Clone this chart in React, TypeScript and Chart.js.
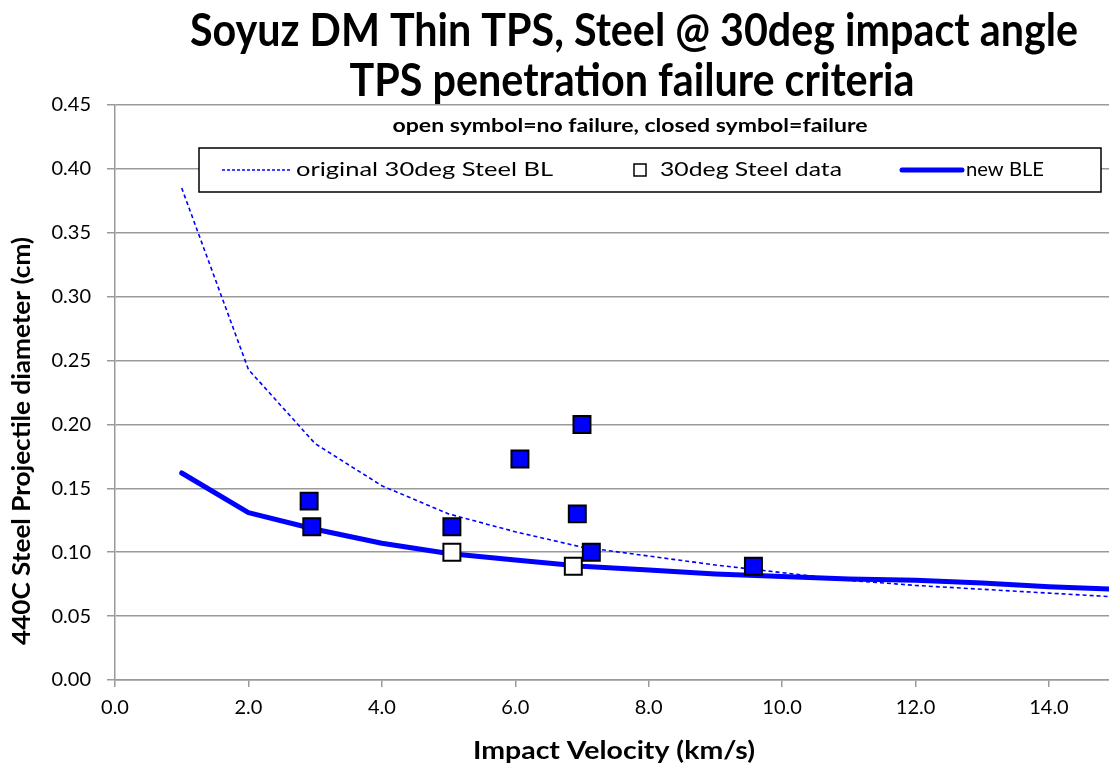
import React, { useEffect, useRef } from "react";
import { Chart, registerables } from "chart.js";

Chart.register(...registerables);

// ---- Text ----
const titleLines = [
  "Soyuz DM Thin TPS, Steel @ 30deg impact angle",
  "TPS penetration failure criteria",
];
const noteText = "open symbol=no failure, closed symbol=failure";
const xAxisTitle = "Impact Velocity (km/s)";
const yAxisTitle = "440C Steel Projectile diameter (cm)";

// ---- Data ----
const blLabel = "original 30deg Steel BL";
const blVelocity = [1, 2, 3, 4, 5, 6, 7, 8, 9, 10, 11, 12, 13, 14, 15];
const blDiameter = [0.385, 0.243, 0.185, 0.152, 0.13, 0.116, 0.104, 0.097, 0.09, 0.084, 0.078, 0.074, 0.071, 0.068, 0.065];

const dataLabel = "30deg Steel data";
const dataVelocity = [2.91, 2.95, 5.05, 5.05, 6.07, 7.0, 6.93, 7.14, 6.87, 9.57];
const dataDiameter = [0.14, 0.12, 0.12, 0.1, 0.173, 0.2, 0.13, 0.1, 0.089, 0.089];
const dataFailed = [true, true, true, false, true, true, true, true, false, true];

const bleLabel = "new BLE";
const bleVelocity = [1, 2, 3, 4, 5, 6, 7, 8, 9, 10, 11, 12, 13, 14, 15];
const bleDiameter = [0.162, 0.131, 0.118, 0.107, 0.099, 0.094, 0.089, 0.086, 0.083, 0.081, 0.079, 0.078, 0.076, 0.073, 0.071];

const FONT = "Lato, 'Open Sans', sans-serif";
const BLUE = "#0000FF";
const GRID = "#9a9a9a";

// draws text scaled horizontally to a target width
function fitText(
  ctx: CanvasRenderingContext2D,
  text: string,
  cx: number,
  cy: number,
  font: string,
  width: number,
  align: "center" | "left" = "center",
  rotate = 0
) {
  ctx.save();
  ctx.font = font;
  ctx.textAlign = "left";
  ctx.textBaseline = "middle";
  const w = ctx.measureText(text).width;
  const sx = width / w;
  ctx.translate(cx, cy);
  if (rotate) ctx.rotate(rotate);
  ctx.scale(sx, 1);
  ctx.fillText(text, align === "center" ? -w / 2 : 0, 0);
  ctx.restore();
}

const overlayPlugin = {
  id: "overlay",
  afterDraw(chart: any) {
    const ctx = chart.ctx as CanvasRenderingContext2D;
    ctx.save();
    ctx.fillStyle = "#000";
    fitText(ctx, titleLines[0], 634, 31, `bold 45px ${FONT}`, 888);
    fitText(ctx, titleLines[1], 632, 81, `bold 45px ${FONT}`, 565);
    fitText(ctx, noteText, 630, 126, `bold 18px ${FONT}`, 475);
    fitText(ctx, xAxisTitle, 614, 751, `bold 25px ${FONT}`, 282);
    fitText(ctx, yAxisTitle, 22, 441, `bold 24px ${FONT}`, 408, "center", -Math.PI / 2);

    // legend box
    const bx = 199, by = 148, bw = 902, bh = 44;
    ctx.fillStyle = "#fff";
    ctx.fillRect(bx, by, bw, bh);
    ctx.strokeStyle = "#000";
    ctx.lineWidth = 1.5;
    ctx.strokeRect(bx, by, bw, bh);
    const cy = by + bh / 2;
    const ds = chart.data.datasets;

    // item 1: dashed line
    ctx.strokeStyle = ds[1].borderColor;
    ctx.lineWidth = ds[1].borderWidth;
    ctx.setLineDash([3, 2]);
    ctx.beginPath();
    ctx.moveTo(222, cy);
    ctx.lineTo(291, cy);
    ctx.stroke();
    ctx.setLineDash([]);
    ctx.fillStyle = "#000";
    fitText(ctx, ds[1].label, 296, cy, `20px ${FONT}`, 257, "left");

    // item 2: open square marker
    ctx.fillStyle = "#fff";
    ctx.strokeStyle = "#000";
    ctx.lineWidth = 1.5;
    ctx.fillRect(634, cy - 6, 12, 12);
    ctx.strokeRect(634, cy - 6, 12, 12);
    ctx.fillStyle = "#000";
    fitText(ctx, ds[0].label, 660, cy, `20px ${FONT}`, 182, "left");

    // item 3: thick line
    ctx.strokeStyle = ds[2].borderColor;
    ctx.lineWidth = ds[2].borderWidth;
    ctx.lineCap = "round";
    ctx.beginPath();
    ctx.moveTo(902, cy);
    ctx.lineTo(962, cy);
    ctx.stroke();
    ctx.fillStyle = "#000";
    fitText(ctx, ds[2].label, 966, cy, `20px ${FONT}`, 78, "left");
    ctx.restore();
  },
};

export default function App() {
  const ref = useRef<HTMLCanvasElement>(null);
  useEffect(() => {
    document.body.style.margin = "0";
    document.documentElement.style.overflow = "hidden";
    document.body.style.overflow = "hidden";
    const pts = (xs: number[], ys: number[]) => xs.map((x, i) => ({ x, y: ys[i] }));
    const chart = new Chart(ref.current!, {
      type: "scatter",
      data: {
        datasets: [
          {
            label: dataLabel,
            data: pts(dataVelocity, dataDiameter),
            pointStyle: "rect",
            pointRadius: 12,
            pointBorderWidth: 2,
            pointBorderColor: "#000",
            pointBackgroundColor: dataFailed.map((f) => (f ? BLUE : "#fff")),
            showLine: false,
            order: 0,
          } as any,
          {
            label: blLabel,
            data: pts(blVelocity, blDiameter),
            showLine: true,
            borderColor: BLUE,
            borderWidth: 1.6,
            borderDash: [4, 3],
            pointRadius: 0,
            tension: 0,
            order: 2,
          },
          {
            label: bleLabel,
            data: pts(bleVelocity, bleDiameter),
            showLine: true,
            borderColor: BLUE,
            borderWidth: 5,
            borderCapStyle: "round",
            borderJoinStyle: "round",
            pointRadius: 0,
            tension: 0,
            order: 1,
          },
        ],
      },
      options: {
        animation: false,
        responsive: false,
        devicePixelRatio: 1,
        layout: { autoPadding: false, padding: { top: 105, right: 0, bottom: 0, left: 0 } },
        plugins: {
          legend: { display: false },
          title: { display: false },
          tooltip: { enabled: false },
        },
        scales: {
          x: {
            type: "linear",
            min: 0,
            max: 14.9,
            afterFit: (s: any) => {
              s.height = 86;
              s.paddingLeft = 0;
              s.paddingRight = 0;
            },
            ticks: {
              stepSize: 2,
              includeBounds: false,
              color: "#000",
              padding: 9,
              font: { family: FONT, size: 20 },
              callback: (v: any) => Number(v).toFixed(1),
            },
            grid: {
              drawOnChartArea: false,
              drawTicks: true,
              tickLength: 7,
              color: GRID,
              lineWidth: 1.5,
            },
            border: { color: GRID, width: 1.5 },
            title: { display: false },
          },
          y: {
            type: "linear",
            min: 0,
            max: 0.45,
            afterFit: (s: any) => {
              s.width = 115;
              s.paddingTop = 0;
              s.paddingBottom = 0;
            },
            ticks: {
              stepSize: 0.05,
              color: "#000",
              padding: 16,
              font: { family: FONT, size: 20 },
              callback: (v: any) => Number(v).toFixed(2),
            },
            grid: {
              color: GRID,
              lineWidth: 1.5,
              drawTicks: true,
              tickLength: 8,
            },
            border: { color: GRID, width: 1.5 },
            title: { display: false },
          },
        },
      },
      plugins: [overlayPlugin],
    } as any);
    return () => chart.destroy();
  }, []);
  return (
    <div style={{ width: 1109, height: 766, position: "relative", background: "#fff" }}>
      <canvas ref={ref} width={1109} height={766} style={{ display: "block" }} />
    </div>
  );
}
